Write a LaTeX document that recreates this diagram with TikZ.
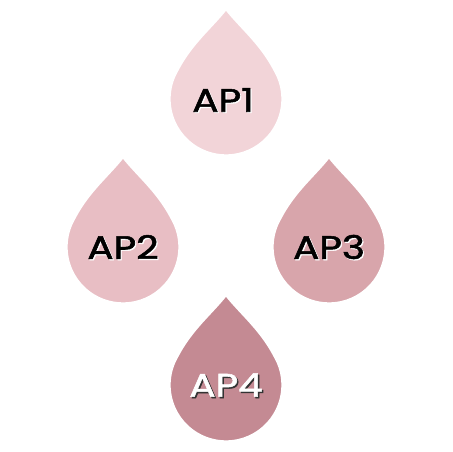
\documentclass[tikz,border=0pt]{standalone}
\usepackage{fontspec}
\newfontfamily\lblfont{Poppins}[FakeBold=1.6]
\usetikzlibrary{shadows.blur}
\definecolor{cA}{RGB}{242,212,216}
\definecolor{cB}{RGB}{232,190,196}
\definecolor{cC}{RGB}{216,165,171}
\definecolor{cD}{RGB}{196,138,147}
\tikzset{
  drop/.pic={
    \path[pic actions] (0,90) .. controls (15,71) and (34.5,56) .. (30:1.13cm)
      arc[start angle=30, end angle=-210, radius=1.13cm]
      .. controls (-34.5,56) and (-15,71) .. cycle;
  },
  dropstyle/.style={draw=white, line width=1.3pt,
    blur shadow={shadow xshift=0.3pt, shadow yshift=-0.8pt, shadow blur radius=5pt, shadow opacity=50}},
  lbl/.style={font=\lblfont\fontsize{18.5}{20}\selectfont, inner sep=0pt, xscale=1.2, transform shape},
}
\begin{document}
\begin{tikzpicture}[x=0.02cm,y=0.02cm]
\useasboundingbox[fill=white] (0,0) rectangle (452,452);
\pic[dropstyle, fill=cA] at (226,353) {drop};
\pic[dropstyle, fill=cB] at (123,205) {drop};
\pic[dropstyle, fill=cC] at (329,205) {drop};
\pic[dropstyle, fill=cD] at (226,67) {drop};
% labels with shadows
\node[lbl, white] (ap1s) at (224.2,350.8) {AP1};
\node[lbl, black] (ap1) at (223,352) {AP1};
\node[lbl, white] (ap2s) at (124.2,203.8) {AP2};
\node[lbl, black] (ap2) at (123,205) {AP2};
\node[lbl, white] (ap3s) at (330.2,203.8) {AP3};
\node[lbl, black] (ap3) at (329,205) {AP3};
\node[lbl, black!80] (ap4s) at (227.4,65.6) {AP4};
\node[lbl, white] (ap4) at (226,67) {AP4};
\end{tikzpicture}
\end{document}
